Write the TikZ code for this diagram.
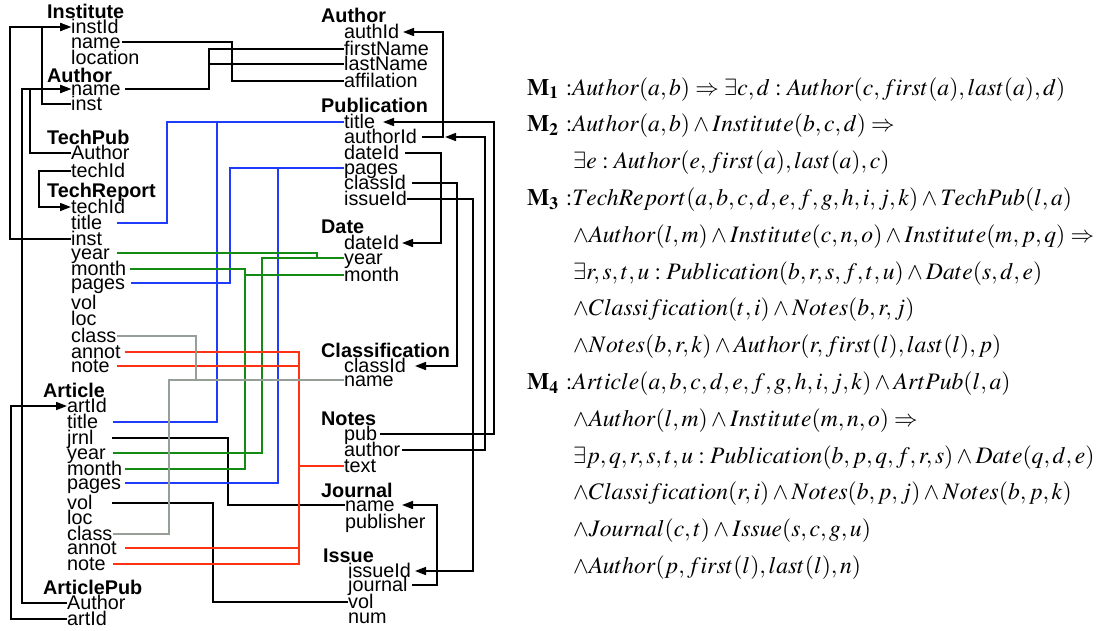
\documentclass[tikz,border=0pt]{standalone}
\usepackage{mathptmx}
\usepackage[no-math]{fontspec}
\newfontfamily\labfamily{Liberation Sans}
\usetikzlibrary{arrows.meta}
\definecolor{linkblue}{RGB}{30,60,250}
\definecolor{linkgreen}{RGB}{20,140,20}
\definecolor{linkred}{RGB}{255,50,20}
\definecolor{linkgray}{RGB}{150,158,152}
\begin{document}
\begin{tikzpicture}[x=1pt,y=-1pt,
  lab/.style={font=\labfamily\fontsize{19.8}{20}\selectfont, inner sep=0pt,
              text height=15pt, text depth=2pt, anchor=west},
  hdr/.style={lab, font=\labfamily\bfseries\fontsize{19.8}{20}\selectfont},
  fml/.style={font=\fontsize{23.6}{26}\selectfont, inner sep=0pt, anchor=base west},
  link/.style={line width=1.6pt},
  arr/.style={link, -{Triangle[length=11pt,width=8pt]}},
  bl/.style={link, draw=linkblue},
  gr/.style={link, draw=linkgreen},
  rd/.style={link, draw=linkred},
  gy/.style={link, draw=linkgray}]
\useasboundingbox (0,0) rectangle (1112,630);

% ---------------- left schema ----------------
\node[hdr] (h-inst) at (47,11.5) {Institute};
\node[lab] (i-id)   at (71,27)  {instId};
\node[lab] (i-name) at (71,42)  {name};
\node[lab] (i-loc)  at (71,58)  {location};
\node[hdr] (h-auth) at (47,76)  {Author};
\node[lab] (a-name) at (71,89)  {name};
\node[lab] (a-inst) at (71,104) {inst};
\node[hdr] (h-tp)   at (47,137.5) {TechPub};
\node[lab] (tp-auth) at (71,153) {Author};
\node[lab] (tp-tid)  at (71,171) {techId};
\node[hdr] (h-tr)   at (47,190.5) {TechReport};
\node[lab] (tr-tid)   at (71,207) {techId};
\node[lab] (tr-title) at (71,223) {title};
\node[lab] (tr-inst)  at (71,239) {inst};
\node[lab] (tr-year)  at (71,253) {year};
\node[lab] (tr-month) at (71,269) {month};
\node[lab] (tr-pages) at (71,283) {pages};
\node[lab] (tr-vol)   at (71,303) {vol};
\node[lab] (tr-loc)   at (71,319) {loc};
\node[lab] (tr-class) at (71,336) {class};
\node[lab] (tr-annot) at (71,352) {annot};
\node[lab] (tr-note)  at (71,366) {note};
\node[hdr] (h-art)    at (43,390.5) {Article};
\node[lab] (ar-aid)   at (67,406) {artId};
\node[lab] (ar-title) at (67,422) {title};
\node[lab] (ar-jrnl)  at (67,438) {jrnl};
\node[lab] (ar-year)  at (67,453) {year};
\node[lab] (ar-month) at (67,469) {month};
\node[lab] (ar-pages) at (67,483) {pages};
\node[lab] (ar-vol)   at (67,503) {vol};
\node[lab] (ar-loc)   at (67,518) {loc};
\node[lab] (ar-class) at (67,534) {class};
\node[lab] (ar-annot) at (67,548) {annot};
\node[lab] (ar-note)  at (67,564) {note};
\node[hdr] (h-ap)     at (43,587.5) {ArticlePub};
\node[lab] (ap-auth)  at (67,603) {Author};
\node[lab] (ap-aid)   at (67,619) {artId};

% ---------------- middle schema ----------------
\node[hdr] (h-mauth) at (321,16) {Author};
\node[lab] (au-id)  at (344,32) {authId};
\node[lab] (au-fn)  at (344,49) {firstName};
\node[lab] (au-ln)  at (344,64) {lastName};
\node[lab] (au-aff) at (344,81) {affilation};
\node[hdr] (h-pub)  at (321,105.5) {Publication};
\node[lab] (p-title) at (344,122) {title};
\node[lab] (p-auth)  at (344,137) {authorId};
\node[lab] (p-date)  at (344,153) {dateId};
\node[lab] (p-pages) at (344,168) {pages};
\node[lab] (p-class) at (344,183) {classId};
\node[lab] (p-issue) at (344,199) {issueId};
\node[hdr] (h-date)  at (321,226.5) {Date};
\node[lab] (d-id)    at (344,243) {dateId};
\node[lab] (d-year)  at (344,258) {year};
\node[lab] (d-month) at (344,275) {month};
\node[hdr] (h-class) at (321,350.5) {Classification};
\node[lab] (c-id)    at (344,366) {classId};
\node[lab] (c-name)  at (344,380) {name};
\node[hdr] (h-notes) at (321,418.5) {Notes};
\node[lab] (n-pub)   at (344,434) {pub};
\node[lab] (n-auth)  at (344,450) {author};
\node[lab] (n-text)  at (344,466) {text};
\node[hdr] (h-jour)  at (321,490.5) {Journal};
\node[lab] (j-name)  at (345,505) {name};
\node[lab] (j-pub)   at (345,522) {publisher};
\node[hdr] (h-issue) at (323,555.5) {Issue};
\node[lab] (is-id)   at (348,571) {issueId};
\node[lab] (is-jour) at (348,585) {journal};
\node[lab] (is-vol)  at (348,602) {vol};
\node[lab] (is-num)  at (348,617) {num};

% routing channels (x positions of the vertical runs)
\coordinate (chInstTR) at (10,0);
\coordinate (chArt)    at (11,0);
\coordinate (chAuthAP) at (22,0);
\coordinate (chAuthTP) at (30,0);
\coordinate (chTech)   at (39,0);
\coordinate (chInstAu) at (42,0);
\coordinate (chTitleTR) at (167,0);
\coordinate (chClassAr) at (169,0);
\coordinate (chClassTR) at (196,0);
\coordinate (chName)   at (209,0);
\coordinate (chVol)    at (213,0);
\coordinate (chTitleAr) at (217,0);
\coordinate (chJrnl)   at (228,0);
\coordinate (chPagesTR) at (230,0);
\coordinate (chAffil)  at (232,0);
\coordinate (chMonth)  at (245,0);
\coordinate (chYearAr) at (262,0);
\coordinate (chPagesAr) at (278,0);
\coordinate (chNotes)  at (299,0);
\coordinate (chYearTR) at (317,0);
\coordinate (chJournal) at (437,0);
\coordinate (chDate)   at (441,0);
\coordinate (chAuthId) at (443,0);
\coordinate (chAuthTip) at (445,0);
\coordinate (chClass)  at (457,0);
\coordinate (chIssue)  at (473,0);
\coordinate (chNotesAu) at (485,0);
\coordinate (chNotesPub) at (494,0);

% ---------------- black links, left side ----------------
\draw[arr] (tr-inst.west) -| (chInstTR |- i-id) -- (i-id.west);
\draw[arr] (a-inst.west)  -| (chInstAu |- i-id) -- (i-id.west);
\draw[arr] (ap-auth.west) -| (chAuthAP |- a-name) -- (a-name.west);
\draw[arr] (tp-auth.west) -| (chAuthTP |- a-name) -- (a-name.west);
\draw[arr] (tp-tid.west)  -| (chTech |- tr-tid) -- (tr-tid.west);
\draw[arr] (ap-aid.west)  -| (chArt |- ar-aid) -- (ar-aid.west);

% ---------------- black links, middle ----------------
\draw[link] ([xshift=51pt]i-name.west) -| (chAffil |- au-aff) -- (au-aff.west);
\draw[link] ([xshift=54pt]a-name.west) -| (chName |- au-fn) -- (au-fn.west);
\draw[link] ([xshift=54pt]a-name.west) -| (chName |- au-ln) -- (au-ln.west);
\draw[link] ([xshift=45pt]ar-jrnl.west) -| (chJrnl |- j-name) -- (j-name.west);
\draw[link] ([xshift=45pt]ar-vol.west)  -| (chVol |- is-vol) -- (is-vol.west);

% ---------------- black links, right side ----------------
\draw[arr] ([xshift=78pt]p-auth.west)  -| (chAuthId |- au-id) -- ([xshift=59pt]au-id.west);
\draw[arr] ([xshift=58pt]n-auth.west)  -| (chNotesAu |- p-auth) -- (chAuthTip |- p-auth);
\draw[arr] ([xshift=36pt]n-pub.west)   -| (chNotesPub |- p-title) -- ([xshift=39pt]p-title.west);
\draw[arr] ([xshift=61pt]p-date.west)  -| (chDate |- d-id) -- ([xshift=58pt]d-id.west);
\draw[arr] ([xshift=68pt]p-class.west) -| (chClass |- c-id) -- ([xshift=71pt]c-id.west);
\draw[arr] ([xshift=63pt]p-issue.west) -| (chIssue |- is-id) -- ([xshift=67pt]is-id.west);
\draw[arr] ([xshift=64pt]is-jour.west) -| (chJournal |- j-name) -- ([xshift=57pt]j-name.west);

% ---------------- blue: title, pages ----------------
\draw[bl] ([xshift=46pt]tr-title.west) -| (chTitleTR |- p-title) -- (p-title.west);
\draw[bl] ([xshift=46pt]ar-title.west) -| (chTitleAr |- p-title) -- (p-title.west);
\draw[bl] ([xshift=60pt]tr-pages.west) -| (chPagesTR |- p-pages) -- (p-pages.west);
\draw[bl] ([xshift=58pt]ar-pages.west) -| (chPagesAr |- p-pages) -- (p-pages.west);

% ---------------- green: year, month ----------------
\draw[gr] ([xshift=46pt]tr-year.west)  -| (chYearTR |- d-year) -- (d-year.west);
\draw[gr] ([xshift=46pt]ar-year.west)  -| (chYearAr |- d-year) -- (d-year.west);
\draw[gr] ([xshift=59pt]tr-month.west) -| (chMonth |- d-month) -- (d-month.west);
\draw[gr] ([xshift=58pt]ar-month.west) -| (chMonth |- d-month) -- (d-month.west);

% ---------------- red: annot, note ----------------
\draw[rd] ([xshift=54pt]tr-annot.west) -| (chNotes |- n-text) -- (n-text.west);
\draw[rd] ([xshift=46pt]tr-note.west)  -| (chNotes |- n-text) -- (n-text.west);
\draw[rd] ([xshift=58pt]ar-annot.west) -| (chNotes |- n-text) -- (n-text.west);
\draw[rd] ([xshift=46pt]ar-note.west)  -| (chNotes |- n-text) -- (n-text.west);

% ---------------- gray: class ----------------
\draw[gy] ([xshift=46pt]tr-class.west) -| (chClassTR |- c-name) -- (c-name.west);
\draw[gy] ([xshift=46pt]ar-class.west) -| (chClassAr |- c-name) -- (c-name.west);

% ---------------- mappings ----------------
\node[fml] (m1a) at (527,95.0)  {$\mathbf{M_1}\ {:}Author(a,b) \Rightarrow \exists c,d : Author(c, first(a), last(a), d)$};
\node[fml] (m2a) at (527,131.8) {$\mathbf{M_2}\ {:}Author(a,b) \wedge Institute(b,c,d) \Rightarrow$};
\node[fml] (m2b) at (573,168.6) {$\exists e : Author(e, first(a), last(a), c)$};
\node[fml] (m3a) at (527,205.4) {$\mathbf{M_3}\ {:}TechReport(a,b,c,d,e,f,g,h,i,j,k) \wedge TechPub(l,a)$};
\node[fml] (m3b) at (573,242.2) {$\wedge Author(l,m) \wedge Institute(c,n,o) \wedge Institute(m,p,q) \Rightarrow$};
\node[fml] (m3c) at (573,279.0) {$\exists r,s,t,u : Publication(b,r,s,f,t,u) \wedge Date(s,d,e)$};
\node[fml] (m3d) at (573,315.8) {$\wedge Classification(t,i) \wedge Notes(b,r,j)$};
\node[fml] (m3e) at (573,352.6) {$\wedge Notes(b,r,k) \wedge Author(r, first(l), last(l), p)$};
\node[fml] (m4a) at (527,389.4) {$\mathbf{M_4}\ {:}Article(a,b,c,d,e,f,g,h,i,j,k) \wedge ArtPub(l,a)$};
\node[fml] (m4b) at (573,426.2) {$\wedge Author(l,m) \wedge Institute(m,n,o) \Rightarrow$};
\node[fml] (m4c) at (573,463.0) {$\exists p,q,r,s,t,u : Publication(b,p,q,f,r,s) \wedge Date(q,d,e)$};
\node[fml] (m4d) at (573,499.8) {$\wedge Classification(r,i) \wedge Notes(b,p,j) \wedge Notes(b,p,k)$};
\node[fml] (m4e) at (573,536.6) {$\wedge Journal(c,t) \wedge Issue(s,c,g,u)$};
\node[fml] (m4f) at (573,573.4) {$\wedge Author(p, first(l), last(l), n)$};
\end{tikzpicture}
\end{document}
